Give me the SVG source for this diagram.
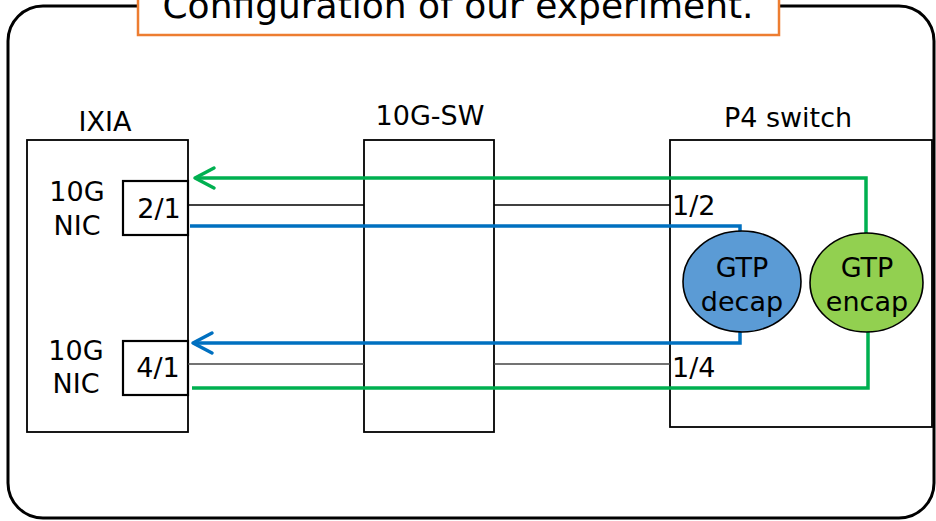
<svg xmlns="http://www.w3.org/2000/svg" width="936" height="521" viewBox="0 0 936 521">
  <defs>
    <style>
      text { font-family: "DejaVu Sans", "Liberation Sans", sans-serif; fill: #000; }
      .lbl { font-size: 27px; text-anchor: middle; }
      .box { fill: #fff; stroke: #000; stroke-width: 1.8; }
      .port { fill: #fff; stroke: #000; stroke-width: 2.2; }
      .thin { fill: none; stroke: #000; stroke-width: 1.4; }
      .thin2 { fill: none; stroke: #444; stroke-width: 1.6; }
      .green { fill: none; stroke: #00B050; stroke-width: 3.5; }
      .blue { fill: none; stroke: #0070C0; stroke-width: 3.5; }
      .ell { stroke: #000; stroke-width: 1.6; }
    </style>
    <!-- open chevron arrowheads, tip at the path end -->
    <marker id="arrowGreen" viewBox="0 0 24 24" refX="21" refY="12" markerWidth="24" markerHeight="24" markerUnits="userSpaceOnUse" orient="auto" overflow="visible">
      <path d="M2 2 L21 12 L2 22" fill="none" stroke="#00B050" stroke-width="3.5" stroke-linecap="round" stroke-linejoin="round"/>
    </marker>
    <marker id="arrowBlue" viewBox="0 0 24 24" refX="21" refY="12" markerWidth="24" markerHeight="24" markerUnits="userSpaceOnUse" orient="auto" overflow="visible">
      <path d="M2 2 L21 12 L2 22" fill="none" stroke="#0070C0" stroke-width="3.5" stroke-linecap="round" stroke-linejoin="round"/>
    </marker>
  </defs>

  <rect width="936" height="521" fill="#fff"/>

  <!-- outer frame -->
  <rect id="frame" x="8" y="6" width="926" height="512" rx="35" ry="35" fill="none" stroke="#000" stroke-width="3"/>

  <!-- title -->
  <g id="title">
    <rect x="138" y="-10" width="641" height="45" fill="#fff" stroke="#ED7D31" stroke-width="2.5"/>
    <text x="458" y="18" font-size="36" text-anchor="middle">Configuration of our experiment.</text>
  </g>

  <!-- IXIA tester -->
  <g id="ixia">
    <text class="lbl" x="105" y="131">IXIA</text>
    <rect class="box" x="27" y="140" width="161" height="292"/>
    <text class="lbl" x="77" y="201">10G</text>
    <text class="lbl" x="77" y="235">NIC</text>
    <text class="lbl" x="76" y="360">10G</text>
    <text class="lbl" x="76" y="393">NIC</text>
  </g>
  <g id="port-2-1">
    <rect class="port" x="123" y="181" width="65" height="54"/>
    <text class="lbl" x="159" y="218">2/1</text>
  </g>
  <g id="port-4-1">
    <rect class="port" x="123" y="341" width="65" height="54"/>
    <text class="lbl" x="158" y="377">4/1</text>
  </g>

  <!-- 10G switch -->
  <g id="sw10g">
    <text class="lbl" x="430" y="125">10G-SW</text>
    <rect class="box" x="364" y="140" width="130" height="292"/>
  </g>

  <!-- P4 switch -->
  <g id="p4switch">
    <text class="lbl" x="788" y="127">P4 switch</text>
    <rect class="box" x="670" y="140" width="262" height="287"/>
    <text x="672" y="215" font-size="27">1/2</text>
    <text x="672" y="377" font-size="27">1/4</text>
  </g>

  <!-- physical links and packet paths -->
  <g id="connectors">
    <line class="thin" x1="188" y1="205" x2="364" y2="205"/>
    <line class="thin" x1="494" y1="205" x2="670" y2="205"/>
    <line class="thin2" x1="188" y1="364" x2="364" y2="364"/>
    <line class="thin2" x1="494" y1="364" x2="670" y2="364"/>

    <polyline class="green" points="866,234 866,178 195,178" marker-end="url(#arrowGreen)"/>
    <polyline class="blue" points="190,226 740,226 740,232"/>
    <polyline class="blue" points="740,331 740,343 193,343" marker-end="url(#arrowBlue)"/>
    <polyline class="green" points="868,331 868,388 192,388"/>
  </g>

  <!-- GTP functions -->
  <g id="gtp-decap">
    <ellipse class="ell" cx="742" cy="281.5" rx="59" ry="50.5" fill="#5B9BD5"/>
    <text class="lbl" x="742" y="277">GTP</text>
    <text class="lbl" x="742" y="311">decap</text>
  </g>
  <g id="gtp-encap">
    <ellipse class="ell" cx="866.5" cy="282.5" rx="56.5" ry="49.5" fill="#92D050"/>
    <text class="lbl" x="867" y="277">GTP</text>
    <text class="lbl" x="867" y="311">encap</text>
  </g>
</svg>
